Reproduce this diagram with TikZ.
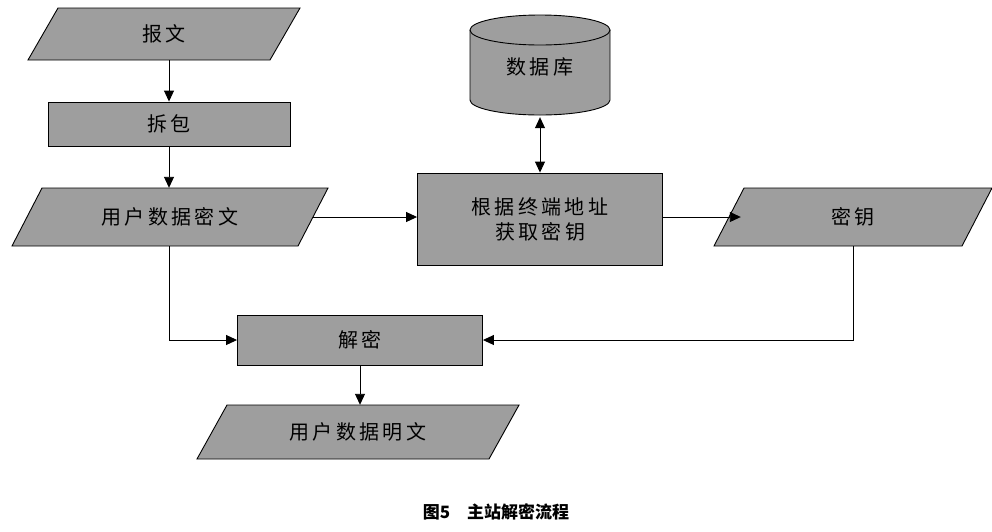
\documentclass[tikz,border=0pt]{standalone}
\usepackage{fontspec}
\setmainfont{Noto Sans CJK SC}
\usetikzlibrary{arrows.meta,shapes.geometric,patterns}
\begin{document}
\begin{tikzpicture}[x=1pt,y=-1pt,
  lbl/.style={font=\fontsize{20}{25}\selectfont},
  arr/.style={line width=0.9pt,-{Triangle[length=11,width=10]}},
  para/.style={draw=none,inner sep=0pt}]
\useasboundingbox (0,0) rectangle (992,531);
\def\para#1#2#3#4#5#6{% name, cx, cy, hw, hh, text
  \fill[black!38] (#2-#4-15,#3+#5) -- (#2-#4+15,#3-#5) -- (#2+#4+15,#3-#5) -- (#2+#4-15,#3+#5) -- cycle;
  \draw[line width=0.9pt] (#2-#4-15,#3+#5) -- (#2-#4+15,#3-#5) -- (#2+#4+15,#3-#5) -- (#2+#4-15,#3+#5) -- cycle;
  \node[para,lbl,minimum width=2*#4,minimum height=2*#5] (#1) at (#2,#3) {#6};}
\para{bw}{164}{34}{121}{26}{报\,文}
\node[draw,line width=0.9pt,fill=black!38,minimum width=242,minimum height=44,lbl] (cb) at (169,124) {拆\,包};
\para{mw}{170}{217}{143}{29}{用\,户\,数\,据\,密\,文}
\node[draw,line width=0.9pt,fill=black!38,minimum width=245,minimum height=92,lbl,align=center] (hq) at (540,219) {根\,据\,终\,端\,地\,址\\获\,取\,密\,钥};
\para{my}{853}{217}{124}{29}{密\,钥}
\node[draw,line width=0.9pt,fill=black!38,minimum width=245,minimum height=50,lbl] (jm) at (360,340) {解\,密};
\para{bwm}{358}{432}{146}{27}{用\,户\,数\,据\,明\,文}
% database
\fill[black!38] (470,30) -- (470,100) arc[start angle=180,end angle=0,x radius=70,y radius=15] -- (610,30) -- cycle;
\fill[black!38] (540,30) ellipse[x radius=70,y radius=15];
\draw[line width=0.9pt] (470,30) -- (470,100) arc[start angle=180,end angle=0,x radius=70,y radius=15] -- (610,30);
\draw[line width=0.9pt] (540,30) ellipse[x radius=70,y radius=15];
\node[lbl,minimum width=140,minimum height=100] (db) at (540,67) {数\,据\,库};
\draw[arr] (bw.south -| cb) -- (cb.north);
\draw[arr] (cb.south) -- (cb.south |- mw.north);
\draw[arr] (mw.east) -- (hq.west |- mw.east);
\draw[arr] (hq.east |- my.west) -- ([xshift=12]my.west);
\draw[line width=0.9pt,{Triangle[length=11,width=10]}-{Triangle[length=11,width=10]}] (db.south) -- (hq.north);
\draw[arr] (mw.south -| cb) |- (jm.west);
\draw[arr] (my.south) |- (jm.east);
\draw[arr] (jm.south) -- (jm.south |- bwm.north);
\node[font=\fontsize{17}{20}\selectfont\bfseries] (cap) at (496,512) {图5\quad 主站解密流程};
\end{tikzpicture}
\end{document}
